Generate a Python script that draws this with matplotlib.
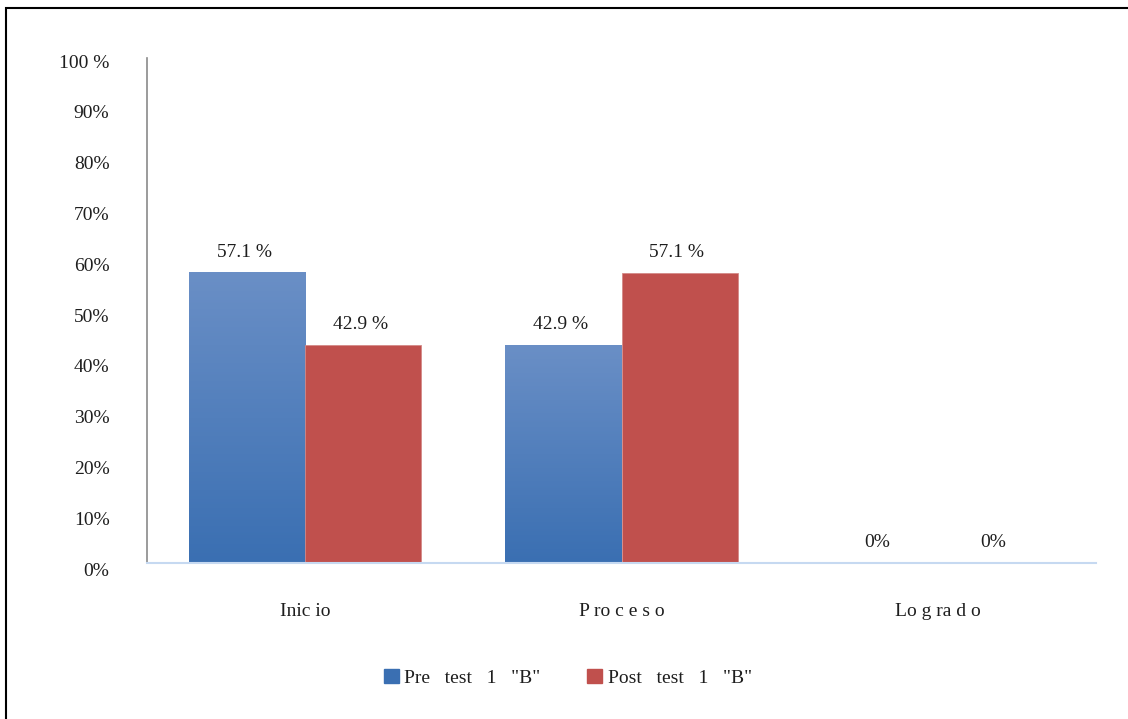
import numpy as np
import matplotlib
matplotlib.use("Agg")
import matplotlib.pyplot as plt
from matplotlib.patches import Rectangle
from matplotlib.transforms import ScaledTranslation
from matplotlib.colors import LinearSegmentedColormap

categories = ["Inic io", "P ro c e s o", "Lo g ra d o"]
series_names = ['Pre   test   1   "B"', 'Post   test   1   "B"']
pre_values = [0.571, 0.429, 0.0]
post_values = [0.429, 0.571, 0.0]
pre_labels = ["57.1 %", "42.9 %", "0%"]
post_labels = ["42.9 %", "57.1 %", "0%"]
ytick_values = [0, 0.1, 0.2, 0.3, 0.4, 0.5, 0.6, 0.7, 0.8, 0.9, 1.0]
ytick_labels = ["0%", "10%", "20%", "30%", "40%", "50%", "60%", "70%", "80%", "90%", "100 %"]

plt.rcParams['font.family'] = ['Liberation Serif', 'DejaVu Serif']
FS = 14
TC = "#1e1e1e"

fig = plt.figure(figsize=(11.28, 7.19), dpi=100)
ax = fig.add_axes([147/1128, 156/719, (1096-147)/1128, (563-55)/719])

x = np.arange(len(categories))
w = 0.367
blue_top = "#6a8fc6"
blue_bot = "#3a6fb2"
red = "#c0504d"

bars_pre = ax.bar(x - w/2, pre_values, w, color=blue_bot, edgecolor="none", zorder=2)
bars_post = ax.bar(x + w/2, post_values, w, color=red, edgecolor="#d48a88", linewidth=0.6, zorder=3)

cmap = LinearSegmentedColormap.from_list("bl", [blue_bot, blue_top])
grad = np.linspace(0, 1, 256).reshape(-1, 1)
for b in bars_pre:
    h = b.get_height()
    if h > 0:
        ax.imshow(grad, cmap=cmap, aspect="auto", origin="lower",
                  extent=(b.get_x(), b.get_x() + b.get_width(), 0, h), zorder=2.5)

for bars, labels in ((bars_pre, pre_labels), (bars_post, post_labels)):
    for b, lab in zip(bars, labels):
        ax.annotate(lab, (b.get_x() + b.get_width()/2, b.get_height()), xytext=(-2, 15),
                    textcoords="offset points", ha="center", va="center", fontsize=FS, color=TC)

ax.set_xlim(-0.5, len(categories) - 0.5)
ax.set_ylim(0, 1.0)
ax.set_yticks(ytick_values)
ax.set_yticklabels(ytick_labels, fontsize=FS, color=TC)
ax.set_xticks(x)
ax.set_xticklabels(categories, fontsize=FS, color=TC)
ax.tick_params(axis="y", length=0, pad=27)
ax.tick_params(axis="x", length=0, pad=29)
off = ScaledTranslation(0, -6/100, fig.dpi_scale_trans)
for t in ax.get_yticklabels():
    t.set_transform(t.get_transform() + off)

for s in ["top", "right"]:
    ax.spines[s].set_visible(False)
ax.spines["left"].set_color("#8a8a8a")
ax.spines["left"].set_linewidth(1.2)
ax.spines["left"].set_bounds(0, 0.994)
ax.spines["bottom"].set_color("#c6d9f1")
ax.spines["bottom"].set_linewidth(1.5)
ax.spines["bottom"].set_zorder(4)

# legend
handles = [Rectangle((0, 0), 1, 1, color=blue_bot), Rectangle((0, 0), 1, 1, color=red)]
leg = fig.legend(handles, series_names, loc="center", bbox_to_anchor=(568/1128, 1 - 678/719),
                 ncol=2, frameon=False, fontsize=FS, handlelength=0.75, handleheight=0.75,
                 handletextpad=0.3, columnspacing=2.4)
for t in leg.get_texts():
    t.set_color(TC)

# outer frame
fig.patches.append(Rectangle((6/1128, -1), 2, 1 + 1 - 8/719, transform=fig.transFigure,
                             fill=False, edgecolor="black", linewidth=1.5))

fig.savefig("out.png", dpi=100)
